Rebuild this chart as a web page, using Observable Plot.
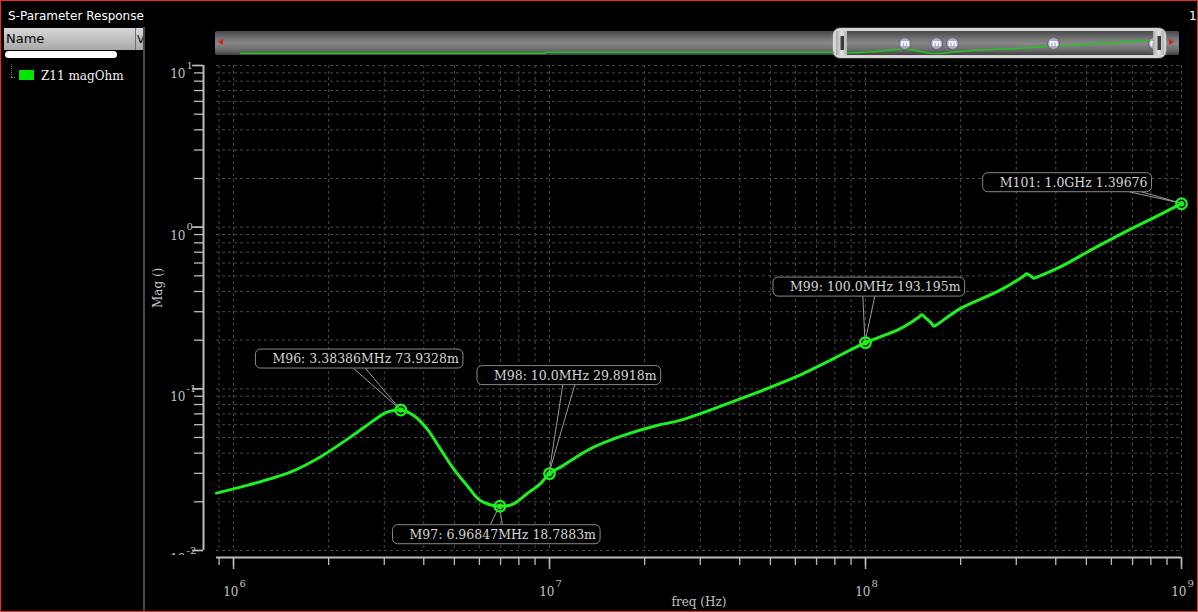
<!DOCTYPE html>
<html>
<head>
<meta charset="utf-8">
<script src="https://cdn.jsdelivr.net/npm/d3@7"></script>
<script src="https://cdn.jsdelivr.net/npm/@observablehq/plot@0.6"></script>
<style>
  html, body { margin: 0; padding: 0; background: #000; }
  #win { position: relative; width: 1198px; height: 612px; overflow: hidden; background: #000; font-family: "DejaVu Sans"; }
  #win > div { position: absolute; }
  #border { left: 0; top: 0; width: 1198px; height: 612px; box-sizing: border-box; border: 1px solid #e0302a; z-index: 30; pointer-events: none; }
  #title { left: 8px; top: 8px; font: 12px "DejaVu Sans"; color: #fff; line-height: 16px; white-space: nowrap; }
  #corner { left: 1189px; top: 8px; font: 12px "DejaVu Sans"; color: #fff; line-height: 16px; }
  #sep { left: 143px; top: 27px; width: 2px; height: 585px; background: #4a4a4a; }
  #hdr { left: 4px; top: 28px; width: 139px; height: 22px; background: linear-gradient(#d8d8d8, #a8a8a8); }
  #hdr span { position: absolute; top: 3px; font: 13px "DejaVu Sans"; color: #000; line-height: 16px; }
  #hdr span.v { font-size: 11px; top: 4px; }
  #hdr i { position: absolute; left: 131px; top: 0; width: 1px; height: 22px; background: #6e6e6e; }
  #pill { left: 5px; top: 51px; width: 112px; height: 7px; border-radius: 4px; background: #fff; }
  #treev { left: 11px; top: 64px; width: 0; height: 13px; border-left: 1px dotted #777; }
  #treeh { left: 11px; top: 77px; width: 4px; height: 0; border-top: 1px dotted #777; }
  #swatch { left: 19px; top: 70px; width: 15px; height: 10px; background: #00e600; }
  #leg { left: 41px; top: 68px; font: 12px "DejaVu Serif"; color: #f2f2f2; line-height: 16px; white-space: nowrap; }
  #main { left: 145px; top: 0; z-index: 0; }
  #clip { left: 158px; top: 555px; width: 44px; height: 22px; background: #000; z-index: 2; }
  #ovbar { left: 215px; top: 31px; width: 964px; height: 24px; border-radius: 2px; z-index: 5;
           background: linear-gradient(#474747, #727272 30%, #888 52%, #6a6a6a 80%, #434343); }
  #ovsel { left: 833px; top: 28px; width: 333px; height: 30px; box-sizing: border-box; border: 3px solid #d6d6d6; border-radius: 7px; z-index: 6;
           background: linear-gradient(#474747, #727272 30%, #888 52%, #6a6a6a 80%, #434343); box-shadow: 0 0 2px #aaa; }
  #ovplot { left: 215px; top: 31px; z-index: 7; }
  .hnd { top: 31px; width: 11px; height: 24px; z-index: 8; background: linear-gradient(90deg, #a9a9a9, #e2e2e2 50%, #b0b0b0); }
  .hnd b { position: absolute; left: 4px; top: 5px; width: 3px; height: 14px; background: #3a3a3a; border-left: 1px solid #888; }
  #hl { left: 836px; }
  #hr { left: 1153px; }
  #tl { left: 218px; top: 39px; width: 0; height: 0; border-top: 3px solid transparent; border-bottom: 3px solid transparent; border-right: 5px solid #e01818; z-index: 9; }
  #tr { left: 1169px; top: 39px; width: 0; height: 0; border-top: 3px solid transparent; border-bottom: 3px solid transparent; border-left: 5px solid #e01818; z-index: 9; }
</style>
</head>
<body>
<div id="win">
  <div id="title">S-Parameter Response</div>
  <div id="corner">1</div>
  <div id="hdr"><span style="left:2px">Name</span><i></i><span class="v" style="left:133px">V</span></div>
  <div id="pill"></div>
  <div id="treev"></div><div id="treeh"></div>
  <div id="swatch"></div>
  <div id="leg">Z11 magOhm</div>
  <div id="sep"></div>
  <div id="main"></div>
  <div id="clip"></div>
  <div id="ovbar"></div>
  <div id="ovsel"></div>
  <div id="ovplot"></div>
  <div id="hl" class="hnd"><b></b></div>
  <div id="hr" class="hnd"><b></b></div>
  <div id="tl"></div>
  <div id="tr"></div>
  <div id="border"></div>
</div>
<script>
// ---------------- data ----------------
const freqHz = [883.4e3, 1.052e6, 1.514e6, 1.839e6, 2.344e6, 2.777e6, 3.061e6, 3.38386e6, 3.715e6, 4.097e6,
  4.512e6, 4.971e6, 5.482e6, 6.038e6, 6.96847e6, 7.693e6, 8.482e6, 9.346e6, 10.0e6,
  11.07e6, 13.45e6, 17.14e6, 21.86e6, 25.90e6, 43.1e6, 62.0e6, 75.3e6, 100.0e6, 128.5e6,
  147.2e6, 150.4e6, 154.8e6, 161.8e6, 164.5e6, 169.0e6, 198.8e6, 266.0e6,
  316.2e6, 323.2e6, 330.4e6, 340.8e6, 350.2e6, 411.8e6, 524.8e6, 645.2e6, 812.2e6, 1.0e9];
const z11Mag = [0.02265, 0.02466, 0.03054, 0.03691, 0.05027, 0.06377, 0.07179, 0.0739328, 0.06847, 0.05657,
  0.04256, 0.03200, 0.02527, 0.02041, 0.0187883, 0.01944, 0.02242, 0.02586, 0.0298918,
  0.03360, 0.04256, 0.05149, 0.05938, 0.06377, 0.0914, 0.1215, 0.1463, 0.193195, 0.2350,
  0.2773, 0.2869, 0.2749, 0.2541, 0.2442, 0.2512, 0.3125, 0.4061,
  0.4977, 0.5143, 0.5040, 0.4838, 0.4928, 0.5656, 0.7341, 0.9090, 1.137, 1.39676];

const markerNames = ["M96", "M97", "M98", "M99", "M101"];
const markerFreq = [3.38386e6, 6.96847e6, 10.0e6, 100.0e6, 1.0e9];
const markerMag = [0.0739328, 0.0187883, 0.0298918, 0.193195, 1.39676];
const markerText = ["M96: 3.38386MHz 73.9328m", "M97: 6.96847MHz 18.7883m", "M98: 10.0MHz 29.8918m",
  "M99: 100.0MHz 193.195m", "M101: 1.0GHz 1.39676"];

// overview strip trace below the plotted band
const overviewFreq = [0.892, 933, 933, 664e3];
const overviewMag = [0.0206, 0.0206, 0.0282, 0.0282];

// axes
const xDomain = [883.4e3, 1e9];
const yDomain = [0.01, 10];
const xDecades = [1e6, 1e7, 1e8, 1e9];
const yDecades = [0.01, 0.1, 1, 10];
const xExpLabels = ["6", "7", "8", "9"];
const yExpLabels = ["-2", "-1", "0", "1"];
const minorMultiples = [1, 2, 3, 4, 5, 6, 7, 8, 9];

// ---------------- layout / style ----------------
const labelLayout = [
  {dx: 58, dy: -51, shift: 0},
  {dx: 96, dy: 28.5, shift: 0},
  {dx: 107, dy: -98, shift: 0},
  {dx: 95, dy: -55.5, shift: 0},
  {dx: -34, dy: -21, shift: 68}
];
const green = "#1ff01f";
const axisCol = "#bdbdbd";
const labelCol = "#c4c4c4";
const gridCol = "#474747";
const serif = "DejaVu Serif";

const xMinor = [1e5, 1e6, 1e7, 1e8].flatMap(d => minorMultiples.map(k => k * d))
  .filter(v => v >= xDomain[0] && v <= xDomain[1] * 1.0001).concat([1e9]);
const yMinor = [0.01, 0.1, 1].flatMap(d => minorMultiples.map(k => k * d)).concat([10]);

const curve = freqHz.map((f, i) => ({f, m: z11Mag[i]}));
const overview = overviewFreq.map((f, i) => ({f, m: overviewMag[i]}));
const markers = markerNames.map((n, i) => ({name: n, f: markerFreq[i], m: markerMag[i], label: markerText[i]}));

const marks = [
  Plot.ruleX(xMinor, {stroke: gridCol, strokeDasharray: "3,3"}),
  Plot.ruleY(yMinor, {stroke: gridCol, strokeDasharray: "3,3"}),
  Plot.ruleY([yDomain[0]], {x1: xDomain[0], x2: xDomain[1], dy: 7, stroke: axisCol, strokeWidth: 2}),
  Plot.ruleX([xDomain[0]], {y1: yDomain[0], y2: yDomain[1], dx: -13, stroke: axisCol, strokeWidth: 2}),
  Plot.axisX({ticks: xMinor, tickSize: 8, tickFormat: () => "", dy: 7, stroke: axisCol, strokeWidth: 1.3, label: null}),
  Plot.axisX({ticks: xDecades, tickSize: 12, tickFormat: () => "", dy: 7, stroke: axisCol, strokeWidth: 1.5, label: null}),
  Plot.axisY({ticks: yMinor, tickSize: 9, tickFormat: () => "", dx: -13, stroke: axisCol, strokeWidth: 1.3, label: null}),
  Plot.axisY({ticks: yDecades, tickSize: 11, tickFormat: () => "", dx: -13, stroke: axisCol, strokeWidth: 1.5, label: null}),
  Plot.text(xDecades, {x: d => d, y: yDomain[0], text: () => "10", textAnchor: "end", dx: 5, dy: 42, fontSize: 12, fill: labelCol, fontFamily: serif}),
  Plot.text(xDecades, {x: d => d, y: yDomain[0], text: (d, i) => xExpLabels[i], textAnchor: "start", dx: 6, dy: 33.5, fontSize: 10, fill: labelCol, fontFamily: serif}),
  Plot.text(yDecades, {x: xDomain[0], y: d => d, text: () => "10", textAnchor: "end", dx: -31, dy: 8.5, fontSize: 12, fill: labelCol, fontFamily: serif}),
  Plot.text(yDecades, {x: xDomain[0], y: d => d, text: (d, i) => yExpLabels[i], textAnchor: "start", dx: -30, dy: 0, fontSize: 10, fill: labelCol, fontFamily: serif}),
  Plot.text(["Mag ()"], {text: d => d, frameAnchor: "left", dx: -58, rotate: -90, fontSize: 12, fill: labelCol, fontFamily: serif}),
  Plot.text(["freq (Hz)"], {text: d => d, frameAnchor: "bottom", dy: 55, fontSize: 12, fill: labelCol, fontFamily: serif}),
  Plot.line(curve, {x: "f", y: "m", stroke: green, strokeWidth: 3, curve: "catmull-rom", className: "curve"}),
  Plot.dot(markers, {x: "f", y: "m", r: 5.3, stroke: green, strokeWidth: 2.3, fill: "none"}),
  Plot.dot(markers, {x: "f", y: "m", r: 2.8, fill: green}),
  ...markers.map((d, i) => Plot.text([d], {x: "f", y: "m", text: "label", textAnchor: "end",
    dx: labelLayout[i].dx, dy: labelLayout[i].dy, fontSize: 12.5, fill: "#d6d6d6", fontFamily: serif, className: "mlabel"}))
];

const plot = Plot.plot({
  width: 1053, height: 612,
  marginLeft: 71, marginRight: 17, marginTop: 65, marginBottom: 62,
  x: {type: "log", domain: xDomain},
  y: {type: "log", domain: yDomain},
  style: {background: "transparent", fontFamily: serif, overflow: "visible"},
  marks
});
document.getElementById("main").appendChild(plot);

// label boxes and leader lines, placed from the rendered text and the plot's scales
(function decorate() {
  const ns = "http://www.w3.org/2000/svg";
  const svg = plot.tagName.toLowerCase() === "svg" ? plot : plot.querySelector("svg");
  const sr = svg.getBoundingClientRect();
  const xs = plot.scale("x"), ys = plot.scale("y");
  const groups = Array.from(svg.querySelectorAll("g.mlabel"));
  if (!groups.length) return;
  const boxG = document.createElementNS(ns, "g");
  const leadG = document.createElementNS(ns, "g");
  groups.forEach((g, i) => {
    const t = g.querySelector("text");
    const r = t.getBoundingClientRect();
    const left = r.left - sr.left - 17, right = r.right - sr.left + 4;
    const cy = (r.top + r.bottom) / 2 - sr.top;
    const top = cy - 9.5, bottom = cy + 9.5;
    const rect = document.createElementNS(ns, "rect");
    rect.setAttribute("x", left); rect.setAttribute("y", top);
    rect.setAttribute("width", right - left); rect.setAttribute("height", bottom - top);
    rect.setAttribute("rx", 5); rect.setAttribute("fill", "#000");
    rect.setAttribute("stroke", "#8a8a8a"); rect.setAttribute("stroke-width", 1);
    boxG.appendChild(rect);
    const mx = xs.apply(markers[i].f), my = ys.apply(markers[i].m);
    const bx = (left + right) / 2 + labelLayout[i].shift;
    const edge = cy < my ? bottom : top;
    [-6, 6].forEach(o => {
      const ln = document.createElementNS(ns, "line");
      ln.setAttribute("x1", bx + o); ln.setAttribute("y1", edge);
      ln.setAttribute("x2", mx); ln.setAttribute("y2", my);
      ln.setAttribute("stroke", "#9a9a9a"); ln.setAttribute("stroke-width", 1);
      leadG.appendChild(ln);
    });
  });
  const curveG = svg.querySelector("g.curve");
  svg.insertBefore(leadG, curveG || groups[0]);
  svg.insertBefore(boxG, groups[0]);
})();

// overview strip
const ov = Plot.plot({
  width: 964, height: 24,
  marginLeft: 0, marginRight: 0, marginTop: 0, marginBottom: 0,
  x: {type: "log", domain: [0.505, 1.768e9], axis: null},
  y: {type: "log", domain: [0.01, 19], axis: null},
  style: {background: "transparent", overflow: "visible"},
  marks: [
    Plot.line(overview, {x: "f", y: "m", stroke: "#26c426", strokeWidth: 1.5}),
    Plot.line(curve, {x: "f", y: "m", stroke: "#26c426", strokeWidth: 1.5}),
    Plot.dot(markers, {x: "f", r: 6, fill: "#a9acc3", stroke: "#5e6072", strokeWidth: 1}),
    Plot.text(markers, {x: "f", text: () => "m", fill: "#fff", fontSize: 9, fontWeight: "bold", fontFamily: "DejaVu Sans"})
  ]
});
document.getElementById("ovplot").appendChild(ov);
</script>
</body>
</html>
